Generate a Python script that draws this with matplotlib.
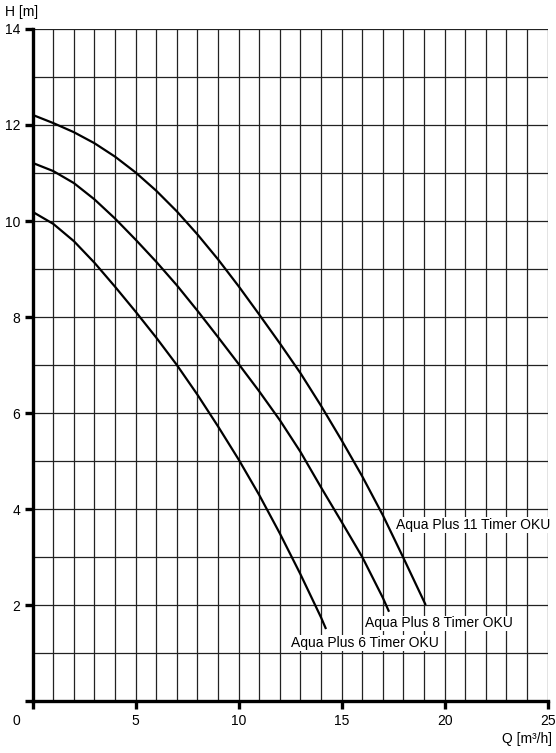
import matplotlib
matplotlib.use("Agg")
import matplotlib.pyplot as plt

plt.rcParams['font.family'] = ['Liberation Sans', 'DejaVu Sans']

# pump curves: Q [m3/h] -> H [m]
q_11 = [0, 1, 2, 3, 4, 5, 6, 7, 8, 9, 10, 11, 12, 13, 14, 15, 16, 17, 18, 19.08]
h_11 = [12.21, 12.04, 11.85, 11.62, 11.34, 11.01, 10.63, 10.20, 9.72, 9.20,
        8.64, 8.05, 7.45, 6.83, 6.15, 5.43, 4.68, 3.87, 2.98, 2.0]

q_8 = [0, 1, 2, 3, 4, 5, 6, 7, 8, 9, 10, 11, 12, 13, 14, 15, 16, 17, 17.3]
h_8 = [11.21, 11.04, 10.79, 10.45, 10.05, 9.61, 9.15, 8.66, 8.13, 7.58,
       7.02, 6.45, 5.85, 5.19, 4.45, 3.73, 3.0, 2.15, 1.86]

q_6 = [0, 1, 2, 3, 4, 5, 6, 7, 8, 9, 10, 11, 12, 13, 14, 14.24]
h_6 = [10.19, 9.94, 9.58, 9.13, 8.63, 8.11, 7.57, 7.0, 6.38, 5.72,
       5.03, 4.29, 3.49, 2.64, 1.74, 1.5]

labels = ['Aqua Plus 11 Timer OKU', 'Aqua Plus 8 Timer OKU', 'Aqua Plus 6 Timer OKU']
label_pos = [(21.37, 3.67), (19.72, 1.62), (16.13, 1.21)]

fig = plt.figure(figsize=(5.56, 7.53), dpi=100)
ax = fig.add_axes([0.0588, 0.069, 0.9262, 0.8925])

ax.set_xlim(0, 25)
ax.set_ylim(0, 14)
ax.set_xticks(range(0, 26, 5))
ax.set_xticks(range(0, 26), minor=True)
ax.set_yticks(range(0, 15, 2))
ax.set_yticks(range(0, 15), minor=True)
ax.grid(True, which='both', color='#222222', lw=0.9)
ax.set_axisbelow(True)

for s in ['top', 'right']:
    ax.spines[s].set_visible(False)
for s in ['left', 'bottom']:
    ax.spines[s].set_linewidth(2.4)
ax.tick_params(which='major', width=2.4, length=6, labelsize=10, pad=3)
ax.tick_params(which='minor', length=0)
ax.set_xticklabels(['', '5', '10', '15', '20', '25'])
ax.set_yticklabels(['', '2', '4', '6', '8', '10', '12', '14'])
ax.annotate('0', (0, 0), xytext=(-12, -9), textcoords='offset points',
            ha='center', va='top', fontsize=10)

for q, h in [(q_11, h_11), (q_8, h_8), (q_6, h_6)]:
    ax.plot(q, h, color='black', lw=1.6, solid_capstyle='butt', solid_joinstyle='round')

for text, (x, y) in zip(labels, label_pos):
    ax.text(x, y, text, ha='center', va='center', fontsize=10,
            bbox=dict(facecolor='white', edgecolor='none', pad=0.5))

fig.text(0.009, 0.984, 'H [m]', ha='left', va='center', fontsize=10)
fig.text(0.993, 0.019, 'Q [m³/h]', ha='right', va='center', fontsize=10)

fig.savefig('out.png', dpi=100)
